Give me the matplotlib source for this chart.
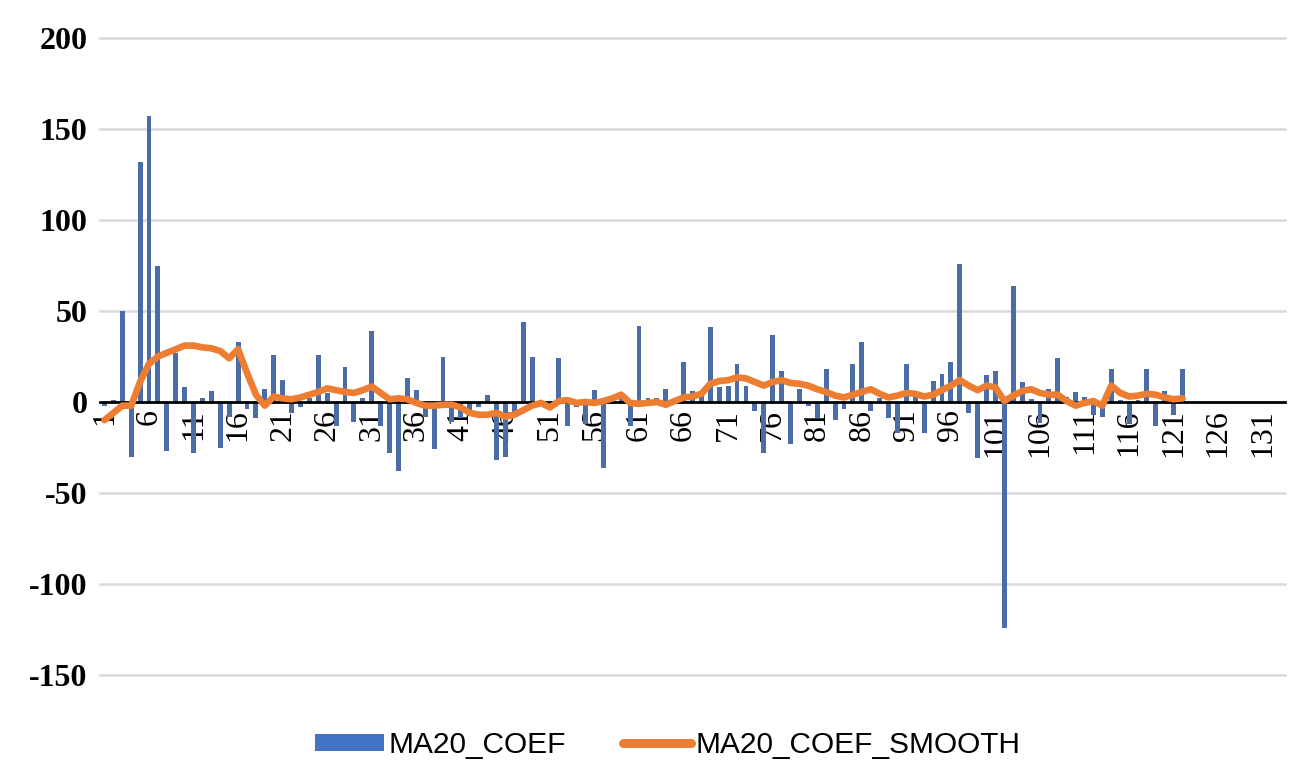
import matplotlib
matplotlib.use('Agg')
import matplotlib.pyplot as plt
from matplotlib.patches import Patch
from matplotlib.lines import Line2D
import numpy as np

n_categories = 133
series_names = ['MA20_COEF', 'MA20_COEF_SMOOTH']

coef = [
    -2, 1, 50, -30, 132, 157, 75, -27, 27, 8,
    -28, 2, 6, -25, -8, 33, -4, -9, 7, 26,
    12, -6, -3, 2, 26, 5, -13, 19, -11, 2,
    39, -13, -28, -38, 13, 6.5, -8, -26, 25, -11,
    -9, -5, -3, 4, -32, -30, -7, 44, 25, -2,
    0, 24, -13, -3, -12, 6.5, -36, 0, 2, -13,
    42, 2, 2, 7, 0.5, 22, 6, 5, 41, 8,
    9, 21, 9, -5, -28, 37, 17, -23, 7, -2,
    -9, 18, -10, -4, 21, 33, -5, 2, -9, -17,
    21, 3, -17, 11.5, 15.5, 22, 76, -6, -31, 15,
    17, -124, 64, 11, 1.5, -11.5, 7, 24, 3, 5.5,
    2.5, -7, -8, 18, 1, -12, 1, 18, -13, 6,
    -7, 18,
]

smooth = [
    -10, -6, -2, -2, 11, 21, 25, 27, 29, 31,
    31, 30, 29.5, 28, 24, 29, 16, 4, -2, 3,
    2, 1.5, 2.5, 4, 5.5, 7.5, 6.5, 5.5, 5, 6.5,
    8.5, 5, 1.5, 2, 1.5, -0.5, -2, -2, -1.5, -1.5,
    -3, -6, -7, -7, -6, -8, -7, -4.5, -2, -0.5,
    -3, 0.5, 1, -0.5, 0, -0.5, 0.5, 2, 4, -0.5,
    -1, -0.5, 0, -1.5, 0.5, 2.5, 3, 4.5, 10, 11.5,
    12, 13.5, 13, 11, 9, 11, 12, 10.5, 10, 9,
    7, 5.5, 3.5, 2.5, 4, 5.5, 7, 4.5, 2.5, 3.5,
    5, 4.5, 3, 4, 6.5, 9, 12, 9, 6.5, 9,
    8, 0.5, 3.5, 6, 7, 5, 4, 4, 0.5, -2,
    -0.5, 0.5, -2, 9, 5, 3, 3.5, 4.5, 4, 2.5,
    1.5, 2,
]

ytick_values = [-150, -100, -50, 0, 50, 100, 150, 200]
xtick_positions = list(range(1, 132, 5))
xtick_labels = [str(v) for v in xtick_positions]

bar_color = '#4A6DA8'
legend_bar_color = '#4472C4'
line_color = '#ED7D31'

fig = plt.figure(figsize=(12.96, 7.8), dpi=100)
ax = fig.add_axes([100 / 1296, 105 / 780, 1185 / 1296, 637 / 780])

x_bar = np.arange(1, len(coef) + 1)
x_line = np.arange(1, len(smooth) + 1)
ax.bar(x_bar, coef, width=0.55, color=bar_color, zorder=2)
ax.plot(x_line, smooth, color=line_color, lw=4.8, zorder=3,
        solid_joinstyle='round', solid_capstyle='round')

ax.set_xlim(0.5, n_categories + 0.5)
ax.set_ylim(-150, 200)

for v in ytick_values:
    if v != 0:
        ax.axhline(v, color='#D9D9D9', lw=1.8, zorder=0, clip_on=False)

for side in ['top', 'right', 'left']:
    ax.spines[side].set_visible(False)
ax.spines['bottom'].set_position(('data', 0))
ax.spines['bottom'].set_color('black')
ax.spines['bottom'].set_linewidth(2)
ax.spines['bottom'].set_zorder(2.5)

ax.set_yticks(ytick_values)
ax.set_yticklabels([str(v) for v in ytick_values], fontfamily='Liberation Serif',
                   fontweight='bold', fontsize=23)
ax.set_xticks(xtick_positions)
ax.set_xticklabels(xtick_labels, rotation=90, fontfamily='Liberation Serif',
                   fontsize=23, va='top', ha='center')
ax.tick_params(axis='y', length=0, pad=9)
ax.tick_params(axis='x', length=0, pad=5)

handles = [Patch(facecolor=legend_bar_color, edgecolor='none'),
           Line2D([0], [0], color=line_color, lw=6.5, solid_capstyle='round')]
fig.legend(handles, series_names, loc='center', bbox_to_anchor=(668 / 1296, 1 - 745 / 780),
           ncol=2, frameon=False, prop={'family': 'Liberation Sans', 'size': 21.5},
           handlelength=2.3, handleheight=0.5, handletextpad=0.15, columnspacing=1.9)

fig.savefig('out.png', dpi=100, facecolor='white')
